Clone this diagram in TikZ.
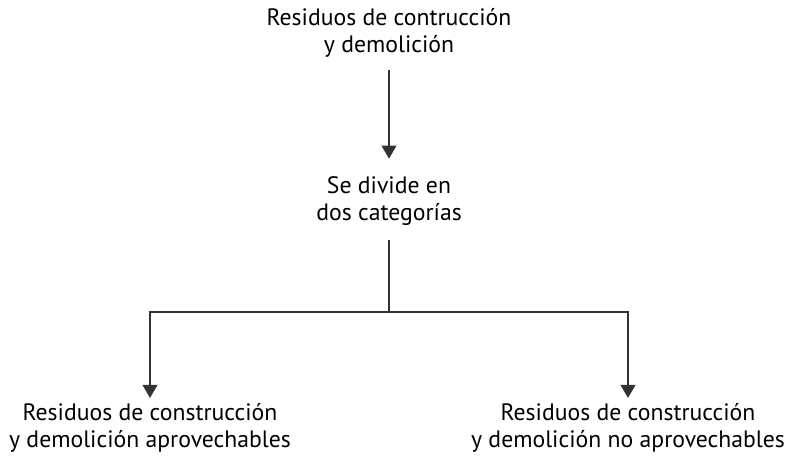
\documentclass[tikz,border=0pt]{standalone}
\usepackage{fontspec}
\setmainfont{PT Sans}
\usetikzlibrary{arrows.meta}

\begin{document}
\begin{tikzpicture}[x=0.02cm,y=-0.02cm,
   texto/.style={align=center,font=\fontsize{13.5}{15.3}\selectfont,inner sep=0pt},
   linea/.style={line width=0.75pt,color=black!80},
   flecha/.style={linea,-{Triangle[width=8.5pt,length=7.5pt]}}]
   \useasboundingbox (0,0) rectangle (787,459);

   \node[texto] (RCD) at (389,33) {Residuos de contrucción\\y demolición};
   \node[texto] (div) at (389,201) {Se divide en\\dos categorías};
   \node[texto] (apr) at (150,428) {Residuos de construcción\\y demolición aprovechables};
   \node[texto] (noapr) at (628,428) {Residuos de construcción\\y demolición no aprovechables};
   \coordinate (rama) at (389,312);

   \draw[flecha,shorten <=7pt,shorten >=10pt] (RCD) -- (div);
   \draw[linea,shorten <=8pt] (div) -- (rama);
   \draw[flecha,shorten >=3pt] (rama) -| (apr);
   \draw[flecha,shorten >=3pt] (rama) -| (noapr);

 \end{tikzpicture}
\end{document}
